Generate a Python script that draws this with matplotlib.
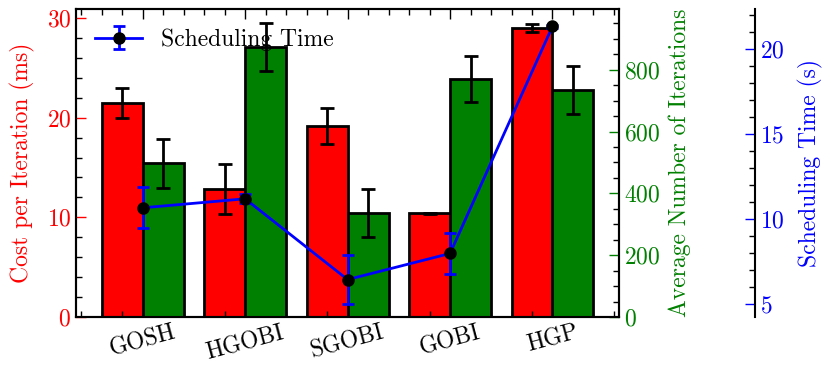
import numpy as np
import matplotlib
matplotlib.use("Agg")
import matplotlib.pyplot as plt
from matplotlib.ticker import MultipleLocator

plt.rcParams['font.family'] = 'cmr10'
plt.rcParams['mathtext.fontset'] = 'cm'
plt.rcParams['axes.formatter.use_mathtext'] = True
plt.rcParams['font.size'] = 17

# data
methods = ["GOSH", "HGOBI", "SGOBI", "GOBI", "HGP"]
cost = [21.5, 12.8, 19.2, 10.4, 29.0]
cost_err = [1.5, 2.5, 1.8, 0.03, 0.4]
iters = [497, 873, 337, 770, 735]
iters_err = [80, 77, 78, 75, 78]
sched = [10.66, 11.19, 6.45, 7.98, 21.31]
sched_err = [1.2, 0.27, 1.42, 1.2, 0.1]

x = np.arange(len(methods))
w = 0.4
ekw = dict(elinewidth=2, capthick=2, ecolor='black')

fig = plt.figure(figsize=(8.31, 3.77), dpi=100)
ax = fig.add_axes([0.0915, 0.159, 0.6535, 0.816])

ax.bar(x - w / 2, cost, w, yerr=cost_err, color='red', edgecolor='black',
       linewidth=2, capsize=5, error_kw=ekw)
ax.set_ylim(0, 30.85)
ax.set_ylabel("Cost per Iteration (ms)", color='red', labelpad=8)
ax.yaxis.set_major_locator(MultipleLocator(10))
ax.yaxis.set_minor_locator(MultipleLocator(2))
ax.set_xticks(x)
ax.set_xticklabels(methods, rotation=15)
ax.xaxis.set_minor_locator(MultipleLocator(0.2))
ax.tick_params(which='both', direction='in', top=True, right=False)
ax.tick_params(which='major', length=7, width=1)
ax.tick_params(which='minor', length=4, width=1)
ax.tick_params(axis='y', which='major', colors='red')

# iterations on the right
ax2 = ax.twinx()
ax2.bar(x + w / 2, iters, w, yerr=iters_err, color='#008000', edgecolor='black',
        linewidth=2, capsize=5, error_kw=ekw)
ax2.set_ylim(0, 995)
ax2.yaxis.set_major_locator(MultipleLocator(200))
ax2.yaxis.set_minor_locator(MultipleLocator(50))
ax2.set_ylabel("Average Number of Iterations", color='green', labelpad=6)
ax2.tick_params(which='both', direction='in')
ax2.tick_params(which='major', length=7, width=1, colors='green')
ax2.tick_params(which='minor', length=4, width=1)

# scheduling time, third axis
ax3 = ax.twinx()
ax3.spines['right'].set_position(('axes', 1.25))
for s in ['left', 'top', 'bottom']:
    ax3.spines[s].set_visible(False)
ax3.errorbar(x, sched, yerr=sched_err, color='blue', marker='o', mfc='black',
             mec='black', ms=8, lw=2, capsize=4, capthick=2, elinewidth=2,
             label="Scheduling Time")
ax3.set_ylim(4.25, 22.3)
ax3.yaxis.set_major_locator(MultipleLocator(5))
ax3.yaxis.set_minor_locator(MultipleLocator(1))
ax3.set_ylabel("Scheduling Time (s)", color='blue', labelpad=10)
ax3.tick_params(which='both', direction='in')
ax3.tick_params(which='major', length=7, width=1, colors='blue')
ax3.tick_params(which='minor', length=4, width=1)
ax3.legend(loc='upper left', frameon=False, borderaxespad=0.4)

for a in (ax, ax2, ax3):
    for s in a.spines.values():
        s.set_linewidth(1.5)

ax.set_xlim(-0.65, 4.65)
fig.savefig("out.png", dpi=100)
